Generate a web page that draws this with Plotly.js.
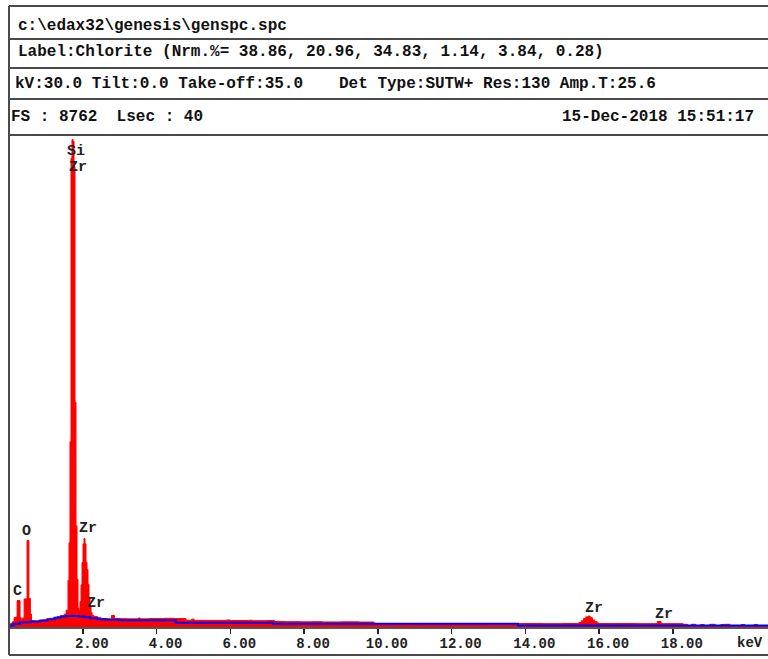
<!DOCTYPE html>
<html>
<head>
<meta charset="utf-8">
<script src="https://cdn.plot.ly/plotly-3.0.1.min.js"></script>
<style>html,body{margin:0;padding:0;background:#fff;}#chart{width:768px;height:659px;}</style>
</head>
<body>
<div id="chart"></div>
<script>
// ---- Spectrum data (energy in keV, counts) ----
const specEnergy = [0.00,0.05,0.10,0.14,0.20,0.22,0.30,0.33,0.37,0.41,0.49,0.54,0.58,0.61,0.70,0.80,0.90,1.00,1.10,1.20,1.30,1.40,1.50,1.55,
  1.600,1.627,1.654,1.681,1.708,1.736,1.763,1.790,1.817,1.844,1.871,1.898,1.925,1.953,1.980,2.007,2.034,2.061,2.088,2.115,2.142,2.170,2.197,2.224,
  2.25,2.30,2.40,2.50,2.70,2.78,2.86,3.00,3.20,3.50,3.56,3.80,4.00,4.20,4.50,4.80,4.95,5.02,5.50,5.90,6.00,6.50,6.60,7.00,7.20,7.50,7.90,8.20,8.50,9.00,9.50,
  9.90,10.45,10.52,10.90,10.97,11.35,11.42,12.00,13.00,13.80,14.50,15.00,15.45,15.52,15.58,15.64,15.70,15.76,15.82,15.88,15.95,16.00,17.00,17.58,17.68,
  18.28,18.40,18.50,18.62,18.75,18.85,19.00,19.15,19.30,19.40,19.55,19.85,19.95,20.20,20.30,20.58];
const specCounts = [40,70,95,170,180,470,170,140,160,500,1540,510,230,110,105,115,125,140,155,170,185,200,230,300,
  830,1500,3300,8350,8680,8650,8200,4000,1800,850,340,300,450,750,1150,1480,1575,1480,1150,1020,760,520,360,260,
  210,185,165,150,145,205,150,148,145,160,145,150,150,155,150,120,140,118,118,125,115,120,112,115,98,95,92,95,90,92,88,
  45,62,45,60,45,60,45,42,40,62,60,62,80,110,150,180,193,165,125,95,70,62,60,98,60,
  48,20,48,20,45,20,48,20,45,48,20,45,20,45,20,20];

// ---- Background fit (blue) ----
const bgEnergy = [0.00,0.12,0.30,0.60,0.85,1.05,1.25,1.40,1.55,1.90,2.05,2.20,2.40,2.60,3.00,4.52,7.16,13.80,20.58];
const bgCounts = [25,60,85,100,115,140,165,185,196,188,175,155,140,130,122,75,57,27,27];

// ---- Axis ----
const tickValues = [2,4,6,8,10,12,14,16,18];
const tickLabels = ["2.00","4.00","6.00","8.00","10.00","12.00","14.00","16.00","18.00"];
const fullScale = 8762;
const xMax = 20.58;

// ---- Peak labels ----
const peakNames = ["Si","Zr","O","C","Zr","Zr","Zr","Zr"];
const peakX = [1.83,1.86,0.475,0.217,2.13,2.37,15.86,17.76];
const peakY = [8460,8175,1692,641,1763,410,338,214];

// ---- Header text ----
const headerLines = [
  {t:"c:\\edax32\\genesis\\genspc.spc", x:16, y:26, a:"left"},
  {t:"Label:Chlorite (Nrm.%= 38.86, 20.96, 34.83, 1.14, 3.84, 0.28)", x:16, y:52, a:"left"},
  {t:"kV:30.0 Tilt:0.0 Take-off:35.0", x:13, y:84, a:"left"},
  {t:"Det Type:SUTW+ Res:130 Amp.T:25.6", x:658, y:84, a:"right"},
  {t:"FS : 8762  Lsec : 40", x:9, y:117, a:"left"},
  {t:"15-Dec-2018 15:51:17", x:756, y:117, a:"right"}
];

const W = 768, H = 659;
const px = v => v / W;
const py = v => 1 - v / H;
const mono = "Liberation Mono, DejaVu Sans Mono, monospace";

const traces = [
  {x: specEnergy, y: specCounts, type: "scatter", mode: "lines",
   line: {color: "#ff0000", width: 1, shape: "hv"}, fill: "tozeroy", fillcolor: "#ff0000", hoverinfo: "skip"},
  {x: bgEnergy, y: bgCounts, type: "scatter", mode: "lines",
   line: {color: "#0000ff", width: 2, shape: "hv"}, hoverinfo: "skip"}
];

const annotations = [];
headerLines.forEach(h => annotations.push({
  text: h.t, xref: "paper", yref: "paper", x: px(h.x), y: py(h.y),
  xanchor: h.a, yanchor: "middle", showarrow: false,
  font: {family: mono, size: 16, color: "#111", weight: "bold"}
}));
peakNames.forEach((n, i) => annotations.push({
  text: n, x: peakX[i], y: peakY[i], xref: "x", yref: "y",
  xanchor: "center", yanchor: "middle", showarrow: false,
  font: {family: mono, size: 15, color: "#222", weight: "bold"}
}));
annotations.push({text: "keV", xref: "paper", yref: "paper", x: px(750), y: py(643),
  xanchor: "center", yanchor: "middle", showarrow: false, font: {family: mono, size: 14, color: "#222", weight: "bold"}});

const lineColor = "#4a4a4a";
const hLines = [6, 39, 68, 99, 135, 655];
const shapes = hLines.map(v => ({type: "line", xref: "paper", yref: "paper",
  x0: px(9), x1: 1, y0: py(v), y1: py(v), line: {color: lineColor, width: 2}}));
shapes.push({type: "line", xref: "paper", yref: "paper", x0: px(9), x1: px(9), y0: py(6), y1: py(655),
  line: {color: lineColor, width: 2}});

const layout = {
  width: W, height: H,
  margin: {l: 0, r: 0, t: 0, b: 0},
  paper_bgcolor: "#fff", plot_bgcolor: "#fff",
  showlegend: false,
  xaxis: {domain: [px(9), 1], range: [0, xMax], tickmode: "array", tickvals: tickValues, ticktext: tickLabels,
    ticks: "outside", ticklen: 5, tickwidth: 1.5, tickcolor: "#222",
    showline: true, linecolor: "#555", linewidth: 2, showgrid: false, zeroline: false,
    ticklabelshift: 9, ticklabelstandoff: -3, tickfont: {family: mono, size: 14, color: "#222", weight: "bold"}, fixedrange: true},
  yaxis: {domain: [1 - 627 / H, 1 - 135 / H], range: [0, fullScale], visible: false, fixedrange: true},
  annotations: annotations,
  shapes: shapes
};

Plotly.newPlot("chart", traces, layout, {displayModeBar: false, staticPlot: true});
</script>
</body>
</html>
